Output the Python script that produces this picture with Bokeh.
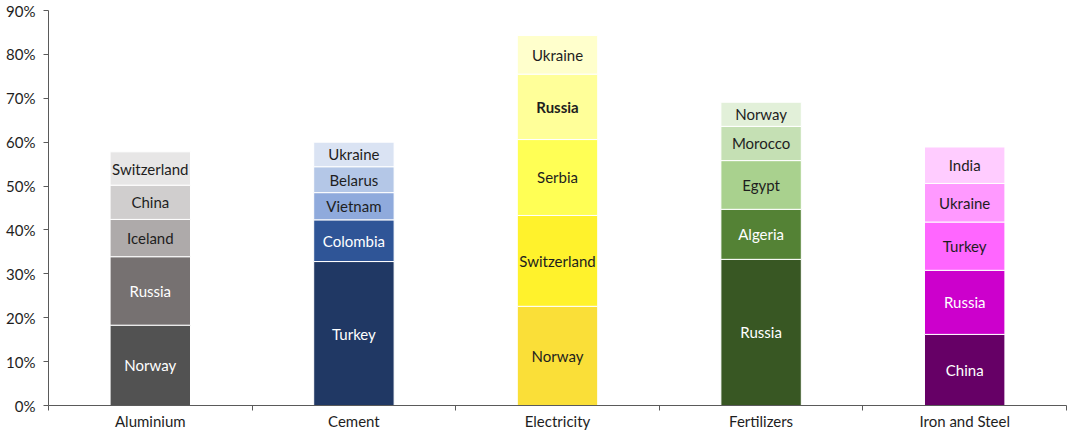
from bokeh.plotting import figure
from bokeh.models import ColumnDataSource, FixedTicker, NumeralTickFormatter, Range1d
from bokeh.core.properties import value
from bokeh.embed import file_html
from bokeh.resources import INLINE

sectors = ["Aluminium", "Cement", "Electricity", "Fertilizers", "Iron and Steel"]

aluminium_countries = ["Norway", "Russia", "Iceland", "China", "Switzerland"]
aluminium_values = [18.3, 15.6, 8.5, 7.8, 7.6]
aluminium_colors = ["#525252", "#767171", "#AEAAAA", "#D0CECE", "#E7E6E6"]

cement_countries = ["Turkey", "Colombia", "Vietnam", "Belarus", "Ukraine"]
cement_values = [32.8, 9.5, 6.2, 5.9, 5.6]
cement_colors = ["#203864", "#2F5597", "#8FAADC", "#B4C7E7", "#DAE3F3"]

electricity_countries = ["Norway", "Switzerland", "Serbia", "Russia", "Ukraine"]
electricity_values = [22.6, 20.7, 17.3, 14.9, 8.8]
electricity_colors = ["#FADF38", "#FFF22C", "#FFFF55", "#FFFF99", "#FFFFCC"]

fertilizers_countries = ["Russia", "Algeria", "Egypt", "Morocco", "Norway"]
fertilizers_values = [33.3, 11.4, 11.1, 7.8, 5.5]
fertilizers_colors = ["#385723", "#548235", "#A9D18E", "#C5E0B4", "#E2F0D9"]

iron_countries = ["China", "Russia", "Turkey", "Ukraine", "India"]
iron_values = [16.2, 14.6, 11.0, 8.8, 8.3]
iron_colors = ["#660066", "#CC00CC", "#FF66FF", "#FF99FF", "#FFCCFF"]

y_ticks = [0, 10, 20, 30, 40, 50, 60, 70, 80, 90]

groups = [
    (aluminium_countries, aluminium_values, aluminium_colors, [True, True, False, False, False]),
    (cement_countries, cement_values, cement_colors, [True, True, False, False, False]),
    (electricity_countries, electricity_values, electricity_colors, [False] * 5),
    (fertilizers_countries, fertilizers_values, fertilizers_colors, [True, True, False, False, False]),
    (iron_countries, iron_values, iron_colors, [True, True, False, False, False]),
]

xs, bottoms, tops, mids, names, fills, tcols, styles = [], [], [], [], [], [], [], []
for i, (cn, vals, cols, light) in enumerate(groups):
    acc = 0.0
    for c, v, col, lt in zip(cn, vals, cols, light):
        xs.append(i + 0.5)
        bottoms.append(acc / 100)
        tops.append((acc + v) / 100)
        mids.append((acc + v / 2) / 100)
        names.append(c)
        fills.append(col)
        tcols.append("#FFFFFF" if lt else "#1E1E1E")
        styles.append("bold" if (i == 2 and c == "Russia") else "normal")
        acc += v

src = ColumnDataSource(dict(x=xs, bottom=bottoms, top=tops, mid=mids, name=names,
                            fill=fills, tcol=tcols, style=styles))

p = figure(width=1068, height=432, output_backend="svg", toolbar_location=None,
           x_range=Range1d(0, 5), y_range=Range1d(0, 0.9))
p.min_border_left = 48
p.min_border_right = 2
p.min_border_top = 10
p.min_border_bottom = 22
p.outline_line_color = None
p.xgrid.visible = False
p.ygrid.visible = False
p.background_fill_color = "white"
p.border_fill_color = "white"

p.vbar(x="x", bottom="bottom", top="top", width=0.395, fill_color="fill",
       line_color="white", line_width=1, source=src)
p.text(x="x", y="mid", text="name", text_color="tcol", text_font_style="style",
       text_font=value("Lato"), text_font_size="15px", text_align="center",
       text_baseline="middle", source=src)

axis_col = "#5A5A5A"
p.yaxis.ticker = FixedTicker(ticks=[t / 100 for t in y_ticks], minor_ticks=[])
p.yaxis.formatter = NumeralTickFormatter(format="0%")
p.yaxis.major_tick_in = 0
p.yaxis.major_tick_out = 5
p.yaxis.minor_tick_line_color = None
p.yaxis.axis_line_color = axis_col
p.yaxis.major_tick_line_color = axis_col
p.yaxis.major_label_standoff = 8
p.yaxis.major_label_text_font = "Lato"
p.yaxis.major_label_text_font_size = "15px"
p.yaxis.major_label_text_color = "#1E1E1E"

centers = [i + 0.5 for i in range(len(sectors))]
p.xaxis.ticker = FixedTicker(ticks=centers, minor_ticks=list(range(len(sectors) + 1)))
p.xaxis.major_label_overrides = {c: s for c, s in zip(centers, sectors)}
p.xaxis.major_tick_in = 0
p.xaxis.major_tick_out = 0
p.xaxis.minor_tick_in = 0
p.xaxis.minor_tick_out = 5
p.xaxis.axis_line_color = axis_col
p.xaxis.minor_tick_line_color = axis_col
p.xaxis.major_label_standoff = 1
p.xaxis.major_label_text_font = "Lato"
p.xaxis.major_label_text_font_size = "15px"
p.xaxis.major_label_text_color = "#1E1E1E"

open("out.html", "w").write(file_html(p, INLINE))
